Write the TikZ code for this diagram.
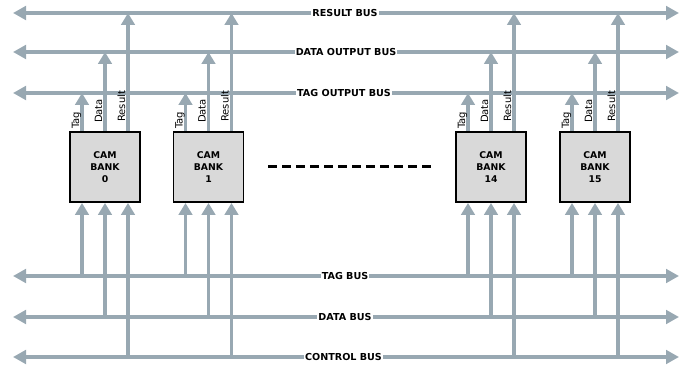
\documentclass[tikz,border=0pt]{standalone}
\usepackage{fontspec}
\setmainfont{DejaVu Sans}
\usetikzlibrary{arrows.meta,calc}
\definecolor{busgray}{RGB}{152,168,178}
\definecolor{bankfill}{RGB}{217,217,217}
\begin{document}
\begin{tikzpicture}[x=1pt,y=-1pt,
  bus/.style={draw=busgray,line width=3.8pt,{Triangle[width=13.5pt,length=13pt]}-{Triangle[width=13.5pt,length=13pt]}},
  sig/.style={draw=busgray,line width=3.8pt,-{Triangle[width=13.5pt,length=12pt]}},
  buslabel/.style={fill=white,inner sep=1pt,font=\bfseries\fontsize{9.6}{11}\selectfont},
  bank/.style={draw=black,line width=1.9pt,fill=bankfill,minimum width=70pt,minimum height=70pt,inner sep=0pt,align=center,font=\bfseries\fontsize{9.3}{12}\selectfont},
  pin/.style={rotate=90,anchor=base west,inner sep=0pt,font=\fontsize{10}{12}\selectfont},
  dots/.style={draw=black,line width=3pt,dash pattern=on 9pt off 5pt}
]
\useasboundingbox (0,0) rectangle (694,371);
% bus end points
\coordinate (resL) at (13,13);   \coordinate (resR) at (679,13);
\coordinate (doutL) at (13,52);  \coordinate (doutR) at (679,52);
\coordinate (toutL) at (13,93);  \coordinate (toutR) at (679,93);
\coordinate (tbusL) at (13,276); \coordinate (tbusR) at (679,276);
\coordinate (dbusL) at (13,317); \coordinate (dbusR) at (679,317);
\coordinate (cbusL) at (13,357); \coordinate (cbusR) at (679,357);

% buses
\draw[bus] (resL) -- (resR);
\draw[bus] (doutL) -- (doutR);
\draw[bus] (toutL) -- (toutR);
\draw[bus] (tbusL) -- (tbusR);
\draw[bus] (dbusL) -- (dbusR);
\draw[bus] (cbusL) -- (cbusR);

% banks
\node[bank] (b0)  at (105,167)   {CAM\\BANK\\0};
\node[bank] (b1)  at (208.5,167) {CAM\\BANK\\1};
\node[bank] (b14) at (491,167)   {CAM\\BANK\\14};
\node[bank] (b15) at (595,167)   {CAM\\BANK\\15};

\foreach \b in {b0,b1,b14,b15} {
  \coordinate (\b-t) at ($(\b.north)+(-23,0)$);
  \coordinate (\b-d) at (\b.north);
  \coordinate (\b-r) at ($(\b.north)+(23,0)$);
  \coordinate (\b-tb) at ($(\b.south)+(-23,0)$);
  \coordinate (\b-db) at (\b.south);
  \coordinate (\b-rb) at ($(\b.south)+(23,0)$);
  % outputs
  \draw[sig] (\b-t) -- (\b-t |- toutL);
  \draw[sig] (\b-d) -- (\b-d |- doutL);
  \draw[sig] (\b-r) -- (\b-r |- resL);
  % inputs
  \draw[sig] (\b-tb |- tbusL) -- (\b-tb);
  \draw[sig] (\b-db |- dbusL) -- (\b-db);
  \draw[sig] (\b-rb |- cbusL) -- (\b-rb);
  % pin labels
  \node[pin] (\b-tl) at ($(\b-t)+(-3,-2)$) {Tag};
  \node[pin] (\b-dl) at ($(\b-d)+(-3,-8)$) {Data};
  \node[pin] (\b-rl) at ($(\b-r)+(-3,-9)$) {Result};
}
% redraw banks on top of arrow starts
\foreach \b/\t in {b0/0,b1/1,b14/14,b15/15} {
  \node[bank] at (\b) {CAM\\BANK\\\t};
}

% bus labels
\node[buslabel] (lres)  at (345,13)  {RESULT BUS};
\node[buslabel] (ldout) at (346,52)  {DATA OUTPUT BUS};
\node[buslabel] (ltout) at (344,93)  {TAG OUTPUT BUS};
\node[buslabel] (ltbus) at (345,276) {TAG BUS};
\node[buslabel] (ldbus) at (345,317) {DATA BUS};
\node[buslabel] (lcbus) at (343.5,357) {CONTROL BUS};

% ellipsis between banks
\coordinate (dotsA) at ($(b1.east)+(24,0)$);
\coordinate (dotsB) at ($(b14.west)+(-23,0)$);
\draw[dots] (dotsA) -- (dotsB);
\end{tikzpicture}
\end{document}
